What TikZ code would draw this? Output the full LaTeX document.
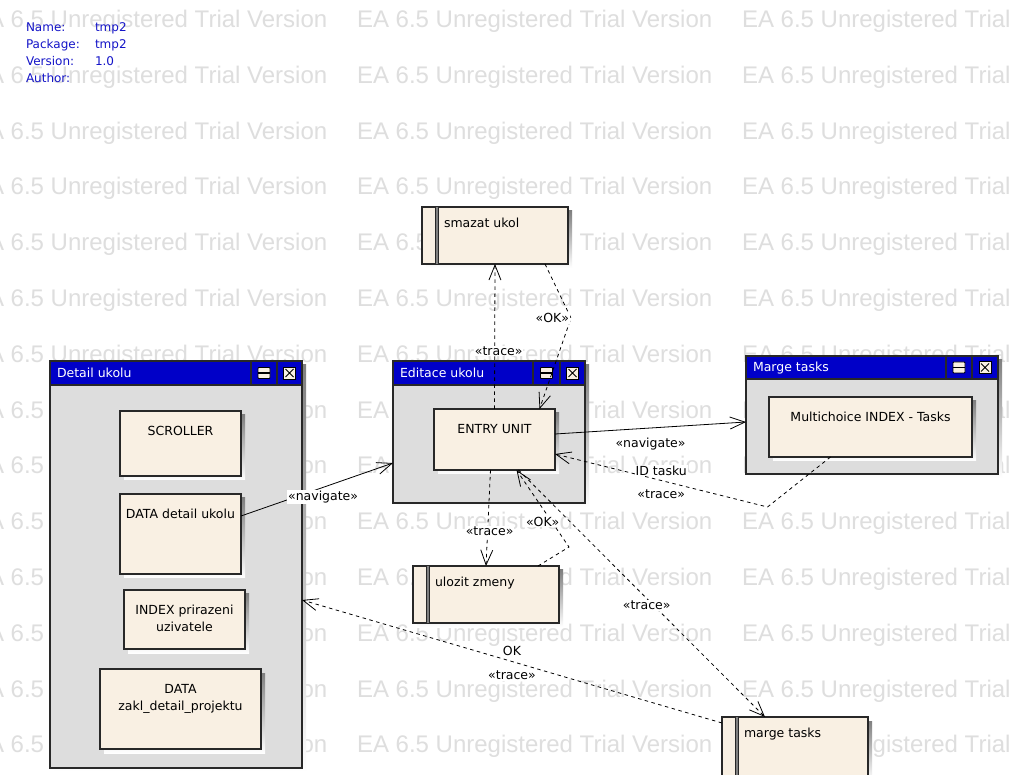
\documentclass[tikz,border=0pt]{standalone}
\usepackage{fontspec}
\setmainfont{DejaVu Sans}
\newfontfamily\wmfont{Liberation Sans}
\usetikzlibrary{arrows.meta,calc}

\definecolor{titleblue}{RGB}{0,0,200}
\definecolor{bodygray}{RGB}{221,221,221}
\definecolor{cream}{RGB}{249,240,227}
\definecolor{shade}{RGB}{192,192,192}
\definecolor{wmgray}{RGB}{222,222,222}
\definecolor{edgeline}{RGB}{40,40,40}
\definecolor{headblue}{RGB}{20,20,200}

% window-like container: name, x0, y0, x1, y1, title bottom, divider 1, divider 2, title
\newcommand{\uicontainer}[9]{%
  \fill[shade] (#2+4,#3+4) rectangle (#4+4,#5+4);
  \node[container, anchor=north west, minimum width={(#4-#2)*1pt}, minimum height={(#5-#3)*1pt}] (#1) at (#2,#3) {};
  \fill[titleblue] (#1.north west) rectangle (#4,#6);
  \draw[frame] (#2,#6) -- (#4,#6) (#7,#3) -- (#7,#6) (#8,#3) -- (#8,#6);
  \draw[frame] (#1.north west) rectangle (#1.south east);
  \draw[fill=cream, rounded corners=0.8pt, line width=0.9pt] ({(#7+#8)/2-6},{(#3+#6)/2-5.5}) rectangle ++(12,11);
  \draw[line width=1.2pt] ({(#7+#8)/2-6},{(#3+#6)/2}) -- ++(12,0);
  \draw[fill=cream, line width=0.9pt] ({(#8+#4)/2-6},{(#3+#6)/2-6}) rectangle ++(12,12);
  \draw[line width=0.9pt] ({(#8+#4)/2-4},{(#3+#6)/2-4}) -- ++(8,8) ({(#8+#4)/2+4},{(#3+#6)/2-4}) -- ++(-8,8);
  \node[titletxt, anchor=base west] (#1-title) at (#2+7,{(#3+#6)/2+4.5}) {#9};
}

% content element: name, x0, y0, x1, y1, text
\newcommand{\elbox}[6]{%
  \fill[shade] (#2+4,#3+4) rectangle (#4+4,#5+4);
  \node[element, anchor=north west, minimum width={(#4-#2)*1pt}, minimum height={(#5-#3)*1pt}] (#1) at (#2,#3) {};
  \node[txt, anchor=north, align=center] (#1-text) at ({(#2+#4)/2},#3+15.5) {#6};
}

% process element with side bar: name, x0, y0, x1, y1, text
\newcommand{\procbox}[6]{%
  \fill[shade] (#2+4,#3+4) rectangle (#4+4,#5+4);
  \node[element, anchor=north west, minimum width={(#4-#2)*1pt}, minimum height={(#5-#3)*1pt}] (#1) at (#2,#3) {};
  \fill[gray] (#2+13,#3) rectangle (#2+16,#5);
  \draw[edgeline, line width=1pt] (#2+13,#3) -- (#2+13,#5) (#2+16,#3) -- (#2+16,#5);
  \node[txt, anchor=base west] (#1-text) at (#2+22,#3+20.5) {#6};
}

\begin{document}
\begin{tikzpicture}[x=1pt,y=-1pt,
  every node/.style={inner sep=0pt, outer sep=0pt},
  container/.style={fill=bodygray},
  frame/.style={draw=edgeline, line width=1.2pt},
  element/.style={draw=edgeline, fill=cream, line width=1.1pt},
  txt/.style={font=\fontsize{12.5}{16.5}\selectfont, text=black},
  titletxt/.style={font=\fontsize{12.5}{15}\selectfont, text=white},
  head/.style={font=\fontsize{12}{14}\selectfont, text=headblue},
  wm/.style={font=\wmfont\fontsize{24}{28}\selectfont, text=wmgray},
  lbl/.style={font=\fontsize{12.5}{14}\selectfont, fill=white, inner sep=1pt},
  navlink/.style={draw=black, line width=0.8pt, -{Straight Barb[length=15pt,width=12pt]}},
  tracelink/.style={navlink, dash pattern=on 3.5pt off 3.5pt}]

\useasboundingbox (0,0) rectangle (1013,775);
\fill[white] (0,0) rectangle (1013,775);

% trial watermark rows
\foreach \r in {0,...,13}
  \foreach \c in {0,1,2}
    \node[wm, anchor=base west] (wm-\r-\c) at ({-28+385*\c},{27.5+55.8*\r}) {EA 6.5 Unregistered Trial Version};

% diagram header
\node[head, anchor=base west] (h-name)  at (26,32) {Name:};
\node[head, anchor=base west] (h-namev) at (95,32) {tmp2};
\node[head, anchor=base west] (h-pkg)   at (26,48.5) {Package:};
\node[head, anchor=base west] (h-pkgv)  at (95,48.5) {tmp2};
\node[head, anchor=base west] (h-ver)   at (26,65.5) {Version:};
\node[head, anchor=base west] (h-verv)  at (95,65.5) {1.0};
\node[head, anchor=base west] (h-auth)  at (26,82.5) {Author:};

% containers
\uicontainer{detail}{50}{361}{302}{768}{385}{251}{277}{Detail ukolu}
\uicontainer{editace}{393}{361}{585}{503}{385}{533}{560}{Editace ukolu}
\uicontainer{marge}{746}{356}{998}{474}{379}{946}{972}{Marge tasks}

% contained units
\elbox{scroller}{120}{411}{241}{476}{SCROLLER}
\elbox{ddata}{120}{494}{241}{574}{DATA detail ukolu}
\elbox{index}{124}{590}{245}{649}{INDEX prirazeni\\uzivatele}
\elbox{zakl}{100}{669}{261}{749}{DATA\\zakl\_detail\_projektu}
\elbox{entry}{434}{409}{555}{470}{ENTRY UNIT}
\elbox{multi}{769}{397}{972}{457}{Multichoice INDEX - Tasks}

% operations
\procbox{smazat}{422}{207}{568}{264}{smazat ukol}
\procbox{ulozit}{413}{566}{559}{623}{ulozit zmeny}
\procbox{mtask}{722}{717}{868}{777}{marge tasks}

% navigation links
\draw[navlink] ([yshift=18pt]ddata.east) -- ([yshift=-31pt]editace.west)
  node[lbl, pos=0.54, anchor=north, yshift=-3pt] (l-nav1) {«navigate»};
\draw[navlink] ([yshift=5.5pt]entry.east) -- ([yshift=-7pt]marge.west)
  node[lbl, pos=0.5, below=9pt] (l-nav2) {«navigate»};

% trace and OK links
\draw[tracelink] (entry.north) -- (smazat.south)
  node[lbl, pos=0.4, xshift=4pt] (l-tr1) {«trace»};
\draw[tracelink] ([xshift=50pt]smazat.south) -- ++(26,54)
  node[lbl, anchor=east, xshift=-1pt] (l-ok1) {«OK»} -- ([xshift=45pt]entry.north);
\draw[tracelink] ([xshift=-4pt]entry.south) -- (ulozit.north)
  node[lbl, pos=0.64, xshift=2pt] (l-tr2) {«trace»};
\draw[tracelink] ([xshift=52pt]ulozit.north) -- ++(31,-19)
  -- node[lbl, pos=0.33, xshift=-9pt] (l-ok2) {«OK»} ([xshift=22pt]entry.south);
\draw[tracelink] ([xshift=24pt]entry.south) -- ([xshift=-30pt]mtask.north)
  node[lbl, pos=0.52, yshift=-7pt] (l-tr3) {«trace»};
\draw[tracelink] ([xshift=-40pt]multi.south) -- ++(-63,50)
  -- node[lbl, pos=0.5, above=4pt] (l-id) {ID tasku}
     node[lbl, pos=0.5, below=8pt] (l-tr4) {«trace»} ([yshift=-14.5pt]entry.east);
\draw[tracelink] ([yshift=-6pt]mtask.north west) -- ([yshift=-35.5pt]detail.east)
  node[lbl, pos=0.5, above=5pt] (l-ok3) {OK}
  node[lbl, pos=0.5, below=8.5pt] (l-tr5) {«trace»};

\end{tikzpicture}
\end{document}
